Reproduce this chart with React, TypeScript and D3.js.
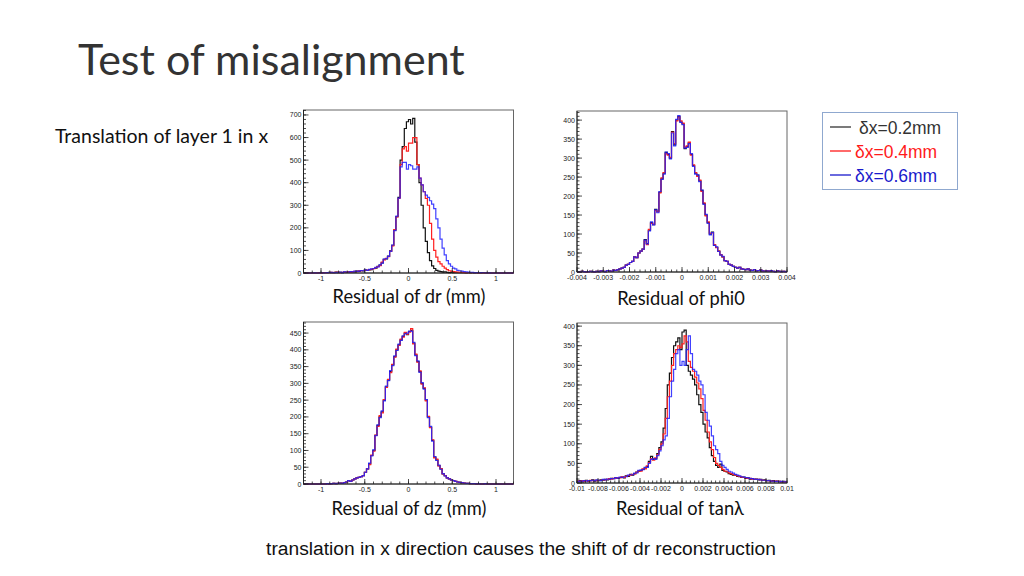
import * as d3 from 'd3';

// bin contents, 100 bins per histogram
const DR_BLACK = [
  0, 0, 0, 0, 0, 0, 0, 1, 0, 2,
  1, 2, 3, 1, 2, 4, 2, 3, 2, 4,
  3, 5, 4, 6, 5, 8, 7, 10, 9, 13,
  12, 14, 15, 20, 22, 30, 35, 45, 60, 62,
  75, 98, 122, 190, 250, 335, 500, 560, 640, 670,
  680, 660, 685, 580, 480, 400, 300, 200, 140, 90,
  55, 32, 20, 12, 8, 6, 4, 5, 3, 2,
  3, 2, 1, 2, 1, 1, 2, 0, 1, 0,
  1, 0, 1, 0, 0, 1, 0, 0, 0, 0,
  0, 0, 0, 0, 0, 0, 0, 0, 0, 0,
];
const DR_RED = [
  0, 0, 0, 0, 0, 0, 1, 0, 0, 1,
  2, 1, 2, 3, 1, 3, 4, 2, 3, 3,
  4, 5, 3, 6, 7, 6, 9, 10, 11, 12,
  13, 15, 17, 19, 24, 28, 33, 48, 58, 65,
  72, 96, 120, 192, 248, 330, 480, 550, 560, 540,
  575, 575, 600, 600, 480, 420, 390, 360, 330, 300,
  220, 150, 100, 70, 50, 40, 30, 22, 15, 10,
  8, 6, 5, 4, 3, 3, 2, 2, 1, 1,
  2, 1, 1, 0, 1, 0, 1, 0, 0, 0,
  0, 0, 0, 0, 0, 0, 0, 0, 0, 0,
];
const DR_BLUE = [
  0, 0, 0, 0, 0, 1, 0, 0, 1, 0,
  1, 2, 1, 3, 2, 2, 3, 4, 2, 5,
  4, 4, 6, 5, 8, 7, 8, 11, 10, 14,
  12, 16, 18, 20, 25, 27, 36, 44, 62, 64,
  74, 96, 124, 188, 252, 332, 470, 490, 490, 460,
  480, 475, 460, 460, 470, 420, 390, 360, 345, 335,
  320, 305, 285, 240, 200, 150, 110, 80, 55, 40,
  30, 22, 18, 12, 10, 8, 6, 5, 4, 3,
  3, 2, 2, 1, 2, 1, 1, 0, 1, 0,
  0, 0, 0, 0, 0, 0, 0, 0, 0, 0,
];

const PHI_BLACK = [
  1, 0, 2, 1, 0, 1, 2, 1, 0, 2,
  1, 3, 2, 1, 4, 3, 2, 5, 4, 6,
  8, 10, 12, 18, 20, 25, 28, 40, 38, 50,
  55, 60, 85, 75, 110, 130, 125, 165, 160, 210,
  245, 260, 315, 310, 300, 370, 335, 400, 410, 395,
  390, 325, 330, 340, 310, 280, 260, 255, 240, 215,
  180, 150, 130, 100, 105, 70, 65, 55, 45, 40,
  30, 28, 20, 18, 15, 12, 10, 12, 8, 7,
  6, 8, 5, 4, 6, 3, 4, 5, 3, 2,
  3, 2, 4, 2, 1, 3, 2, 1, 2, 1,
];
const PHI_RED = [
  1, 0, 2, 1, 0, 1, 2, 1, 0, 2,
  1, 3, 2, 1, 4, 3, 2, 5, 4, 6,
  8, 10, 12, 18, 20, 25, 28, 40, 38, 50,
  55, 60, 82, 72, 112, 128, 126, 162, 158, 208,
  248, 262, 312, 308, 302, 368, 338, 398, 408, 398,
  392, 328, 332, 342, 308, 282, 262, 252, 242, 212,
  182, 148, 132, 102, 103, 72, 64, 55, 46, 40,
  30, 28, 20, 18, 15, 12, 10, 12, 8, 7,
  6, 8, 5, 4, 6, 3, 4, 5, 3, 2,
  3, 2, 4, 2, 1, 3, 2, 1, 2, 1,
];
const PHI_BLUE = [
  1, 0, 2, 1, 0, 1, 2, 1, 0, 2,
  1, 3, 2, 1, 4, 3, 2, 5, 4, 6,
  8, 10, 12, 18, 20, 25, 28, 40, 38, 50,
  55, 60, 84, 74, 108, 132, 124, 164, 156, 212,
  244, 258, 316, 312, 298, 366, 332, 402, 412, 394,
  388, 326, 328, 338, 312, 278, 258, 256, 238, 216,
  178, 152, 128, 98, 104, 70, 66, 54, 45, 41,
  30, 28, 20, 18, 15, 12, 10, 12, 8, 7,
  6, 8, 5, 4, 6, 3, 4, 5, 3, 2,
  3, 2, 4, 2, 1, 3, 2, 1, 2, 1,
];

const DZ_BLACK = [
  0, 0, 0, 0, 0, 0, 0, 0, 0, 0,
  0, 1, 0, 1, 2, 1, 2, 3, 2, 4,
  6, 10, 8, 12, 15, 18, 20, 22, 25, 35,
  45, 60, 85, 100, 145, 175, 200, 215, 250, 290,
  310, 335, 355, 380, 400, 415, 430, 440, 450, 445,
  455, 458, 420, 385, 365, 335, 300, 285, 250, 200,
  170, 130, 80, 72, 55, 45, 30, 25, 18, 15,
  12, 10, 8, 6, 5, 4, 3, 2, 2, 1,
  1, 1, 0, 1, 0, 0, 1, 0, 0, 0,
  0, 0, 0, 0, 0, 0, 0, 0, 0, 0,
];
const DZ_RED = [
  0, 0, 0, 0, 0, 0, 0, 0, 0, 0,
  0, 1, 0, 1, 2, 1, 2, 3, 2, 4,
  6, 10, 8, 12, 15, 18, 20, 22, 25, 35,
  45, 58, 86, 98, 146, 172, 204, 212, 252, 288,
  312, 332, 357, 378, 402, 413, 432, 438, 452, 447,
  453, 463, 418, 387, 363, 337, 298, 287, 248, 202,
  168, 132, 78, 74, 54, 46, 30, 25, 18, 15,
  12, 10, 8, 6, 5, 4, 3, 2, 2, 1,
  1, 1, 0, 1, 0, 0, 1, 0, 0, 0,
  0, 0, 0, 0, 0, 0, 0, 0, 0, 0,
];
const DZ_BLUE = [
  0, 0, 0, 0, 0, 0, 0, 0, 0, 0,
  0, 1, 0, 1, 2, 1, 2, 3, 2, 4,
  6, 10, 8, 12, 15, 18, 20, 22, 25, 35,
  45, 62, 84, 102, 144, 176, 198, 218, 248, 292,
  308, 338, 353, 382, 398, 417, 428, 442, 448, 450,
  455, 456, 422, 383, 367, 333, 302, 283, 252, 198,
  172, 128, 82, 70, 56, 44, 31, 24, 18, 15,
  12, 10, 8, 6, 5, 4, 3, 2, 2, 1,
  1, 1, 0, 1, 0, 0, 1, 0, 0, 0,
  0, 0, 0, 0, 0, 0, 0, 0, 0, 0,
];

const TAN_BLACK = [
  4, 6, 3, 5, 7, 4, 6, 8, 5, 7,
  6, 8, 7, 9, 8, 10, 12, 11, 13, 12,
  14, 15, 13, 18, 17, 22, 20, 24, 28, 30,
  32, 35, 38, 42, 55, 68, 60, 62, 75, 90,
  105, 140, 190, 250, 280, 320, 350, 360, 370, 340,
  385, 390, 300, 285, 275, 265, 250, 225, 200, 180,
  150, 130, 115, 90, 70, 55, 45, 40, 48, 32,
  30, 28, 24, 22, 20, 20, 17, 16, 14, 15,
  12, 13, 10, 11, 9, 10, 8, 9, 7, 8,
  6, 7, 5, 6, 4, 5, 4, 3, 4, 3,
];
const TAN_RED = [
  5, 4, 6, 4, 6, 5, 7, 6, 7, 6,
  7, 7, 8, 8, 9, 11, 10, 12, 12, 13,
  13, 16, 14, 17, 19, 20, 22, 23, 27, 31,
  30, 36, 36, 44, 52, 62, 58, 64, 72, 86,
  100, 125, 165, 220, 260, 300, 330, 340, 350, 345,
  355, 375, 360, 310, 295, 285, 270, 255, 240, 215,
  185, 160, 130, 105, 85, 65, 50, 45, 40, 35,
  30, 30, 26, 24, 22, 20, 18, 17, 15, 14,
  13, 12, 12, 10, 10, 9, 9, 8, 7, 7,
  6, 6, 5, 5, 5, 4, 4, 3, 3, 3,
];
const TAN_BLUE = [
  3, 5, 5, 6, 5, 6, 6, 7, 6, 8,
  7, 6, 9, 8, 10, 10, 11, 11, 14, 12,
  15, 14, 16, 16, 20, 21, 21, 25, 26, 32,
  33, 34, 40, 40, 50, 60, 62, 60, 70, 82,
  95, 110, 120, 165, 220, 260, 290, 330, 340, 300,
  310, 300, 340, 375, 330, 290, 285, 275, 260, 250,
  225, 180, 160, 145, 120, 95, 85, 75, 55, 45,
  40, 35, 30, 28, 25, 22, 20, 18, 16, 15,
  14, 13, 12, 11, 10, 9, 9, 8, 7, 7,
  6, 6, 5, 5, 4, 4, 3, 4, 3, 3,
];

const LEGEND_LABELS = ['\u03b4x=0.2mm', '\u03b4x=0.4mm', '\u03b4x=0.6mm'];
const LEGEND_COLORS = ['#333333', '#ff1a1a', '#1a1acc'];
const LINE_COLORS = ['#111111', '#ff2020', '#2020ff'];

const DR_X_TICKS = [-1, -0.5, 0, 0.5, 1];
const PHI_X_TICKS = [-0.004, -0.003, -0.002, -0.001, 0, 0.001, 0.002, 0.003, 0.004];
const TAN_X_TICKS = [-0.01, -0.008, -0.006, -0.004, -0.002, 0, 0.002, 0.004, 0.006, 0.008, 0.01];

interface PanelProps {
  left: number;
  top: number;
  width: number;
  height: number;
  xDomain: [number, number];
  yMax: number;
  series: number[][];
  xTicks: number[];
  xMinor: number;
  yStep: number;
  yMinor: number;
  label: string;
  labelX: number;
  labelY: number;
}

const fmt = (v: number) => (Math.abs(v) < 1e-12 ? '0' : String(+v.toPrecision(6)));
const AXIS_FONT = "'Liberation Sans', Arial, sans-serif";
const SLIDE_FONT = "Lato, 'Open Sans', sans-serif";

function Panel(p: PanelProps) {
  const x = d3.scaleLinear().domain(p.xDomain).range([p.left, p.left + p.width]);
  const y = d3.scaleLinear().domain([0, p.yMax]).range([p.top + p.height, p.top]);
  const bottom = p.top + p.height;
  const [x0, x1] = p.xDomain;
  const bw = (x1 - x0) / 100;
  const line = d3
    .line<[number, number]>()
    .x((d) => x(d[0]))
    .y((d) => y(d[1]));

  const minorX: number[] = [];
  const startMinor = Math.ceil(x0 / p.xMinor - 1e-6);
  for (let i = startMinor; i * p.xMinor <= x1 + 1e-9; i++) minorX.push(i * p.xMinor);

  const yMajor = d3.range(0, p.yMax + 1e-9, p.yStep);
  const yMinor = d3.range(0, p.yMax + 1e-9, p.yMinor);

  return (
    <g>
      <rect x={p.left} y={p.top} width={p.width} height={p.height} fill="#fff" stroke="#666" strokeWidth={1} />
      {p.series.map((vals, si) => {
        const pts: [number, number][] = [];
        vals.forEach((v, k) => {
          pts.push([x0 + k * bw, v]);
          pts.push([x0 + (k + 1) * bw, v]);
        });
        return (
          <path
            key={si}
            d={line(pts) ?? ''}
            fill="none"
            stroke={LINE_COLORS[si]}
            strokeWidth={1.2}
            strokeOpacity={si === 2 ? 0.85 : 1}
          />
        );
      })}
      <line x1={p.left} x2={p.left + p.width} y1={bottom} y2={bottom} stroke="#222" strokeWidth={1} />
      <line x1={p.left} x2={p.left} y1={p.top} y2={bottom} stroke="#222" strokeWidth={1} />
      {minorX.map((v, i) => (
        <line key={'mx' + i} x1={x(v)} x2={x(v)} y1={bottom} y2={bottom - 2.5} stroke="#222" strokeWidth={0.8} />
      ))}
      {p.xTicks.map((v, i) => (
        <g key={'x' + i}>
          <line x1={x(v)} x2={x(v)} y1={bottom} y2={bottom - 5} stroke="#222" strokeWidth={0.8} />
          <text x={x(v)} y={bottom + 8} textAnchor="middle" fontFamily={AXIS_FONT} fontSize={7} fill="#222">
            {fmt(v)}
          </text>
        </g>
      ))}
      {yMinor.map((v, i) => (
        <line key={'my' + i} x1={p.left} x2={p.left + 2.5} y1={y(v)} y2={y(v)} stroke="#222" strokeWidth={0.8} />
      ))}
      {yMajor.map((v, i) => (
        <g key={'y' + i}>
          <line x1={p.left} x2={p.left + 5} y1={y(v)} y2={y(v)} stroke="#222" strokeWidth={0.8} />
          <text x={p.left - 2} y={y(v) + 2.5} textAnchor="end" fontFamily={AXIS_FONT} fontSize={7} fill="#222">
            {fmt(v)}
          </text>
        </g>
      ))}
      <text x={p.labelX} y={p.labelY} textAnchor="middle" fontFamily={SLIDE_FONT} fontSize={18.3} fill="#111">
        {p.label}
      </text>
    </g>
  );
}

export default function App() {
  return (
    <div style={{ position: 'fixed', left: 0, top: 0, width: 1024, height: 576, background: '#fff' }}>
      <svg width={1024} height={576} viewBox="0 0 1024 576">
        <rect width={1024} height={576} fill="#fff" />
        <text x={78} y={75} fontFamily={SLIDE_FONT} fontSize={43} fill="#333">
          Test of misalignment
        </text>
        <text x={55} y={143} fontFamily={SLIDE_FONT} fontSize={19.5} fill="#111">
          Translation of layer 1 in x
        </text>

        <Panel
          left={303.5}
          top={110}
          width={210}
          height={163}
          xDomain={[-1.2, 1.2]}
          yMax={722}
          series={[DR_BLACK, DR_RED, DR_BLUE]}
          xTicks={DR_X_TICKS}
          xMinor={0.1}
          yStep={100}
          yMinor={20}
          label="Residual of dr (mm)"
          labelX={409}
          labelY={303}
        />
        <Panel
          left={577}
          top={111}
          width={210}
          height={161}
          xDomain={[-0.004, 0.004]}
          yMax={424}
          series={[PHI_BLACK, PHI_RED, PHI_BLUE]}
          xTicks={PHI_X_TICKS}
          xMinor={0.0002}
          yStep={50}
          yMinor={10}
          label="Residual of phi0"
          labelX={681}
          labelY={305}
        />
        <Panel
          left={303.5}
          top={322}
          width={210}
          height={162}
          xDomain={[-1.2, 1.2]}
          yMax={483}
          series={[DZ_BLACK, DZ_RED, DZ_BLUE]}
          xTicks={DR_X_TICKS}
          xMinor={0.1}
          yStep={50}
          yMinor={10}
          label="Residual of dz (mm)"
          labelX={409}
          labelY={515}
        />
        <Panel
          left={577}
          top={323}
          width={210}
          height={160}
          xDomain={[-0.01, 0.01]}
          yMax={408}
          series={[TAN_BLACK, TAN_RED, TAN_BLUE]}
          xTicks={TAN_X_TICKS}
          xMinor={0.0004}
          yStep={50}
          yMinor={10}
          label={'Residual of tan\u03bb'}
          labelX={680}
          labelY={515}
        />

        <rect x={822.5} y={112.5} width={135} height={77} fill="#fff" stroke="#8fa8cf" strokeWidth={1} />
        {LEGEND_LABELS.map((t, i) => (
          <g key={t}>
            <line x1={830} x2={851} y1={127 + i * 24} y2={127 + i * 24} stroke={LEGEND_COLORS[i]} strokeWidth={1.3} />
            <text x={i === 0 ? 859 : 855} y={133.5 + i * 24} fontFamily={AXIS_FONT} fontSize={17.5} fill={LEGEND_COLORS[i]}>
              {t}
            </text>
          </g>
        ))}

        <text x={521} y={555} textAnchor="middle" fontFamily={AXIS_FONT} fontSize={19.2} fill="#111">
          translation in x direction causes the shift of dr reconstruction
        </text>
      </svg>
    </div>
  );
}
